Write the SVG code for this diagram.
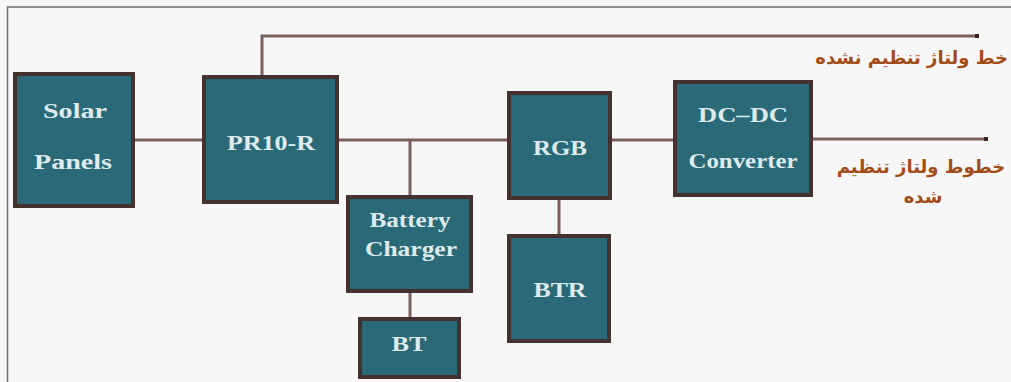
<svg xmlns="http://www.w3.org/2000/svg" width="1011" height="382" viewBox="0 0 1011 382">
<style>
.box{fill:#2a6a78;stroke:#45312d;stroke-width:4}
.lbl{font-family:"Liberation Serif",serif;font-weight:bold;font-size:22px;fill:#dfeaed;text-anchor:middle}
.wire{stroke:#7a615c;stroke-width:3;fill:none}
.fa{font-family:"DejaVu Sans",sans-serif;font-weight:bold;font-size:18px;fill:#a24c17}
</style>
<defs>
<marker id="tip" markerWidth="4" markerHeight="4" refX="2" refY="2" orient="auto" markerUnits="userSpaceOnUse">
<rect x="0" y="0" width="4" height="4" fill="#3e2520"/>
</marker>
</defs>
<rect x="0" y="0" width="1011" height="382" fill="#f7f7f7"/>
<path d="M7.5 382 V7 H1011" fill="none" stroke="#6e6e6e" stroke-width="1.5"/>
<g id="connectors">
<line class="wire" x1="135" y1="140" x2="202" y2="140"/>
<polyline class="wire" points="262,75 262,36 977,36" marker-end="url(#tip)"/>
<line class="wire" x1="339" y1="140" x2="507" y2="140"/>
<line class="wire" x1="410" y1="140" x2="410" y2="195"/>
<line class="wire" x1="410" y1="293" x2="410" y2="317"/>
<line class="wire" x1="559" y1="200" x2="559" y2="234"/>
<line class="wire" x1="612" y1="140" x2="673" y2="140"/>
<line class="wire" x1="813" y1="139" x2="986" y2="139" marker-end="url(#tip)"/>
</g>
<g id="solar">
<rect class="box" x="15" y="74" width="118" height="132"/>
<text class="lbl" x="75" y="118" textLength="64" lengthAdjust="spacingAndGlyphs">Solar</text>
<text class="lbl" x="73" y="169" textLength="78" lengthAdjust="spacingAndGlyphs">Panels</text>
</g>
<g id="pr10r">
<rect class="box" x="204" y="77" width="133" height="125"/>
<text class="lbl" x="271" y="150" textLength="88" lengthAdjust="spacingAndGlyphs">PR10-R</text>
</g>
<g id="charger">
<rect class="box" x="348" y="197" width="123" height="94"/>
<text class="lbl" x="410" y="227" textLength="81" lengthAdjust="spacingAndGlyphs">Battery</text>
<text class="lbl" x="411" y="256" textLength="92" lengthAdjust="spacingAndGlyphs">Charger</text>
</g>
<g id="bt">
<rect class="box" x="360" y="319" width="99" height="58"/>
<text class="lbl" x="409" y="351" textLength="35" lengthAdjust="spacingAndGlyphs">BT</text>
</g>
<g id="rgb">
<rect class="box" x="509" y="93" width="101" height="105"/>
<text class="lbl" x="560" y="155" textLength="54" lengthAdjust="spacingAndGlyphs">RGB</text>
</g>
<g id="btr">
<rect class="box" x="509" y="236" width="100" height="105"/>
<text class="lbl" x="560" y="297" textLength="53" lengthAdjust="spacingAndGlyphs">BTR</text>
</g>
<g id="dcdc">
<rect class="box" x="675" y="82" width="136" height="113"/>
<text class="lbl" x="743" y="122" textLength="90" lengthAdjust="spacingAndGlyphs">DC–DC</text>
<text class="lbl" x="743" y="168" textLength="109" lengthAdjust="spacingAndGlyphs">Converter</text>
</g>
<g id="labels">
<text class="fa" x="1008" y="64" text-anchor="end">خط ولتاژ تنظیم نشده</text>
<text class="fa" x="921" y="173" text-anchor="middle">خطوط ولتاژ تنظیم</text>
<text class="fa" x="923" y="203" text-anchor="middle">شده</text>
</g>
</svg>
